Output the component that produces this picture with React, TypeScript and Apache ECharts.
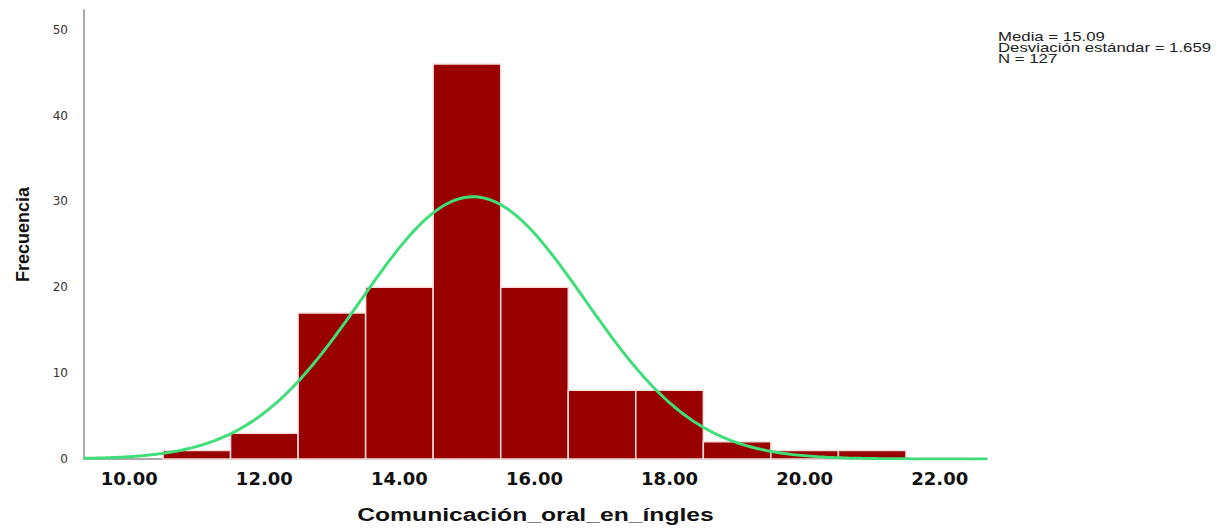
import React, { useEffect, useRef } from "react";
import * as echarts from "echarts";

// Histogram bins (lower edge, upper edge) and frequencies
const binLower = [10.5, 11.5, 12.5, 13.5, 14.5, 15.5, 16.5, 17.5, 18.5, 19.5, 20.5];
const binUpper = [11.5, 12.5, 13.5, 14.5, 15.5, 16.5, 17.5, 18.5, 19.5, 20.5, 21.5];
const frequencies = [1, 3, 17, 20, 46, 20, 8, 8, 2, 1, 1];

// Stated statistics of the fitted normal curve
const MEAN = 15.09;
const SD = 1.659;
const N = 127;
const BIN_WIDTH = 1;

const xTickValues = [10, 12, 14, 16, 18, 20, 22];
const yTickValues = [0, 10, 20, 30, 40, 50];

const X_MIN = 9.33;
const X_MAX = 22.7;
const Y_MAX = 52.3;

const statLines = ["Media = 15.09", "Desviación estándar = 1.659", "N = 127"];

export default function App() {
  const ref = useRef<HTMLDivElement>(null);
  useEffect(() => {
    if (!ref.current) return;
    const chart = echarts.init(ref.current, undefined, { renderer: "svg" });

    const barData = binLower.map((lo, i) => [lo, binUpper[i], frequencies[i]]);
    const curve: number[][] = [];
    const steps = 300;
    for (let k = 0; k <= steps; k++) {
      const x = X_MIN + ((X_MAX - X_MIN) * k) / steps;
      const z = (x - MEAN) / SD;
      const y = (N * BIN_WIDTH * Math.exp(-0.5 * z * z)) / (SD * Math.sqrt(2 * Math.PI));
      curve.push([x, y]);
    }

    chart.setOption({
      animation: false,
      backgroundColor: "#ffffff",
      grid: { left: 84, right: 242, top: 10, bottom: 69 },
      xAxis: {
        type: "value",
        min: X_MIN,
        max: X_MAX,
        axisLine: { show: true, lineStyle: { color: "#aaaaaa", width: 2 } },
        axisTick: { show: false },
        splitLine: { show: false },
        axisLabel: {
          customValues: xTickValues,
          formatter: (v: number) => v.toFixed(2),
          fontFamily: "DejaVu Sans",
          fontWeight: "bold",
          fontSize: 18,
          color: "#111111",
          margin: 10,
        },
      },
      yAxis: {
        type: "value",
        min: 0,
        max: Y_MAX,
        name: "Frecuencia",
        nameLocation: "middle",
        nameGap: 52,
        nameRotate: 90,
        nameTextStyle: {
          fontFamily: "Liberation Sans",
          fontWeight: "bold",
          fontSize: 18,
          color: "#111111",
        },
        axisLine: { show: true, lineStyle: { color: "#aaaaaa", width: 2 } },
        axisTick: { show: false },
        splitLine: { show: false },
        axisLabel: {
          customValues: yTickValues,
          fontFamily: "DejaVu Sans",
          fontSize: 12,
          color: "#333333",
          margin: 16,
        },
      },
      graphic: [
        {
          type: "text",
          x: 535.5,
          y: 515,
          scaleX: 1.3,
          style: {
            text: "Comunicación_oral_en_íngles",
            fontFamily: "Liberation Sans",
            fontWeight: "bold",
            fontSize: 19,
            fill: "#111111",
            align: "center",
            verticalAlign: "middle",
          },
        },
        ...statLines.map((t, i) => ({
          type: "text",
          x: 998,
          y: 37 + i * 11,
          scaleX: 1.4,
          style: {
            text: t,
            fontFamily: "Liberation Sans",
            fontSize: 12,
            fill: "#222222",
            align: "left",
            verticalAlign: "middle",
          },
        })),
      ],
      series: [
        {
          type: "custom",
          z: 2,
          data: barData,
          encode: { x: [0, 1], y: 2 },
          renderItem: (params: any, api: any) => {
            const lo = api.value(0);
            const hi = api.value(1);
            const v = api.value(2);
            const p0 = api.coord([lo, v]);
            const p1 = api.coord([hi, 0]);
            return {
              type: "rect",
              shape: { x: p0[0], y: p0[1], width: p1[0] - p0[0], height: p1[1] - p0[1] },
              style: { fill: "#990000", stroke: "#f7dede", lineWidth: 1.5 },
            };
          },
        },
        {
          type: "line",
          z: 5,
          data: curve,
          showSymbol: false,
          smooth: false,
          lineStyle: { color: "#40de78", width: 3 },
        },
      ],
    });
    return () => chart.dispose();
  }, []);
  return (
    <div
      ref={ref}
      style={{ position: "fixed", left: 0, top: 0, width: 1229, height: 528, background: "#fff" }}
    />
  );
}
